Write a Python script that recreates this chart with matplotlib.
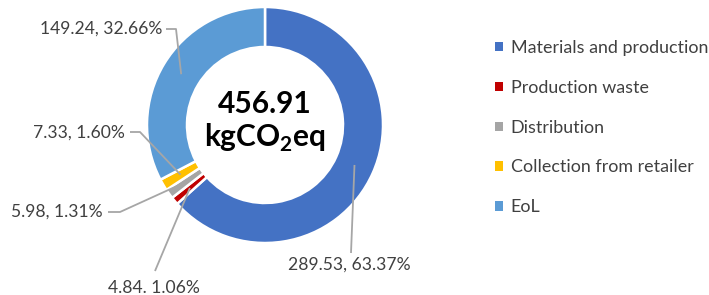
import matplotlib
matplotlib.use("Agg")
import matplotlib.pyplot as plt
import numpy as np

categories = ["Materials and production", "Production waste", "Distribution",
              "Collection from retailer", "EoL"]
values = [289.53, 4.84, 5.98, 7.33, 149.24]
percents = [63.37, 1.06, 1.31, 1.60, 32.66]
label_texts = ["289.53, 63.37%", "4.84. 1.06%", "5.98, 1.31%", "7.33, 1.60%", "149.24, 32.66%"]
total_text = "456.91"
colors = ["#4472C4", "#C00000", "#A5A5A5", "#FFC000", "#5B9BD5"]

plt.rcParams['font.family'] = ['Lato', 'DejaVu Sans']
plt.rcParams['mathtext.fontset'] = 'custom'
plt.rcParams['mathtext.rm'] = 'Lato:bold'
plt.rcParams['mathtext.bf'] = 'Lato:bold'

W, H = 709, 295
fig = plt.figure(figsize=(W / 100, H / 100), dpi=100)
ax = fig.add_axes([0, 0, 1, 1])

cx, cy = 265, H - 125
R = 118
width = 40

wedges, _ = ax.pie(values, colors=colors, startangle=90, counterclock=False,
                   center=(cx, cy), radius=R,
                   wedgeprops=dict(width=width, edgecolor='white', linewidth=1.8),
                   frame=True)
ax.set_xlim(0, W)
ax.set_ylim(0, H)
ax.set_aspect('equal')
ax.axis('off')

# centre text
ax.text(cx, H - 104, total_text, ha='center', va='center', fontsize=21.5,
        fontweight='bold', color='black')
ax.text(cx, H - 138, r'kgCO$_{2}$eq', ha='center', va='center', fontsize=21.5,
        fontweight='bold', color='black')

# label layout (pixel coords from top): text center, and leader start/knee
label_pos = [(349, 265), (154, 288), (57, 212), (79, 133), (101, 29)]
leader_start = [[(351, 253)], [(155, 271)], [(108, 212), (120, 212)],
                [(130, 132), (140, 132)], [(166, 29), (176, 29)]]
lead_color = "#A6A6A6"
text_color = "#404040"

cum = np.cumsum([0] + values[:-1])
tot = sum(values)
rmid = R - width / 2
for i, w in enumerate(wedges):
    mid_frac = (cum[i] + values[i] / 2) / tot
    ang = np.deg2rad(90 - 360 * mid_frac)
    px, py = cx + rmid * np.cos(ang), cy + rmid * np.sin(ang)
    pts = [(x, H - y) for x, y in leader_start[i]] + [(px, py)]
    xs, ys = zip(*pts)
    ax.plot(xs, ys, color=lead_color, lw=1.3, solid_capstyle='butt', zorder=5)
    tx, ty = label_pos[i]
    ax.text(tx, H - ty, label_texts[i], ha='center', va='center', fontsize=12.6,
            color=text_color)

leg = ax.legend(wedges, categories, loc='upper left', bbox_to_anchor=(495 / W, 1 - 40 / H),
                frameon=False, fontsize=12.9, labelcolor=text_color,
                handlelength=0.42, handleheight=0.42, handletextpad=0.45,
                labelspacing=1.33, borderaxespad=0, borderpad=0)
for h in leg.legend_handles:
    h.set_edgecolor('none')

fig.savefig("out.png", dpi=100)
